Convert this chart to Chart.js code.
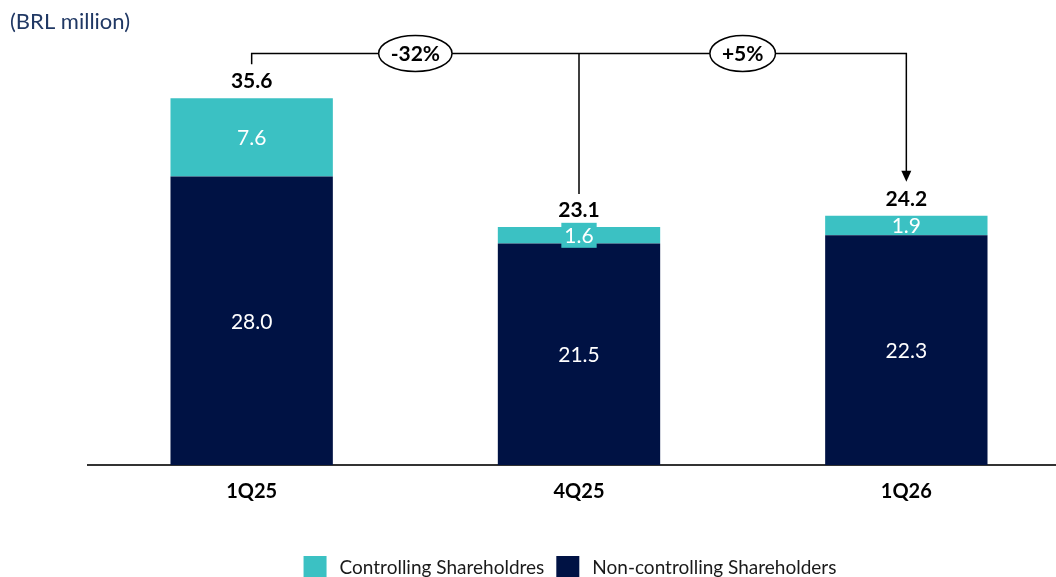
<!DOCTYPE html>
<html>
<head>
<meta charset="utf-8">
<script src="https://cdn.jsdelivr.net/npm/chart.js@4.4.1/dist/chart.umd.min.js"></script>
<style>
    html, body { margin: 0; padding: 0; background: #fff; overflow: hidden; }
    canvas { display: block; }
</style>
</head>
<body>
<canvas id="jsChart" width="1070" height="577"></canvas>
<script>
// 資料
const quarters = ['1Q25', '4Q25', '1Q26']
const nonControlling = [28.0, 21.5, 22.3]
const controlling = [7.6, 1.6, 1.9]
const variations = ['-32%', '+5%']
const unitLabel = '(BRL million)'

const TEAL = '#3bc1c3'
const NAVY = '#001244'
const FONT = 'Lato, "Noto Sans", sans-serif'

/**
 * @description 數值標籤、合計、變動幅度框線、圖例
*/
const overlayPlugin = {
    id: 'overlay',
    afterDatasetsDraw(chart) {
        const ctx = chart.ctx
        const yScale = chart.scales.y
        const xScale = chart.scales.x
        const topMeta = chart.getDatasetMeta(1)

        ctx.save()
        ctx.textAlign = 'center'
        ctx.textBaseline = 'middle'

        // 區段內數值
        ctx.font = '21px ' + FONT
        chart.data.datasets.forEach((ds, d) => {
            chart.getDatasetMeta(d).data.forEach((bar, i) => {
                let value = ds.data[i].toFixed(1)
                let cy = (bar.y + bar.base) / 2
                let h = Math.abs(bar.base - bar.y)
                if (h < 19) {
                    let w = ctx.measureText(value).width + 6
                    ctx.fillStyle = ds.backgroundColor
                    ctx.fillRect(bar.x - w / 2, cy - 12.5, w, 25)
                }
                ctx.fillStyle = '#ffffff'
                ctx.fillText(value, bar.x, cy + 1)
            })
        })

        // 合計
        let totalY = []
        ctx.font = 'bold 21px ' + FONT
        ctx.fillStyle = '#000000'
        topMeta.data.forEach((bar, i) => {
            let sum = nonControlling[i] + controlling[i]
            let ty = yScale.getPixelForValue(sum) - 17
            totalY.push(ty)
            ctx.fillText(sum.toFixed(1), bar.x, ty)
        })

        // 變動幅度框線
        let lineY = chart.chartArea.top + 0.5
        let xs = quarters.map((q, i) => xScale.getPixelForValue(i))
        ctx.strokeStyle = '#000000'
        ctx.lineWidth = 1.5
        ctx.beginPath()
        ctx.moveTo(xs[0], totalY[0] - 17)
        ctx.lineTo(xs[0], lineY)
        ctx.lineTo(xs[2], lineY)
        ctx.lineTo(xs[2], totalY[2] - 24)
        ctx.moveTo(xs[1], lineY)
        ctx.lineTo(xs[1], totalY[1] - 16)
        ctx.stroke()

        // 箭頭
        let tipY = totalY[2] - 17
        ctx.fillStyle = '#000000'
        ctx.beginPath()
        ctx.moveTo(xs[2], tipY)
        ctx.lineTo(xs[2] - 5, tipY - 11)
        ctx.lineTo(xs[2] + 5, tipY - 11)
        ctx.closePath()
        ctx.fill()

        // 橢圓標籤
        ctx.font = 'bold 21px ' + FONT
        variations.forEach((text, i) => {
            let cx = (xs[i] + xs[i + 1]) / 2
            let rx = ctx.measureText(text).width / 2 + 12
            ctx.beginPath()
            ctx.ellipse(cx, lineY, rx, 18, 0, 0, Math.PI * 2)
            ctx.fillStyle = '#ffffff'
            ctx.fill()
            ctx.stroke()
            ctx.fillStyle = '#000000'
            ctx.fillText(text, cx, lineY + 1)
        })

        // 單位
        ctx.textAlign = 'left'
        ctx.font = '22px ' + FONT
        ctx.fillStyle = '#203864'
        ctx.fillText(unitLabel, 10, 22)

        // 圖例
        ctx.font = '19px ' + FONT
        let items = [chart.data.datasets[1], chart.data.datasets[0]]
        let widths = items.map(ds => 23 + 13 + ctx.measureText(ds.label).width)
        let total = widths[0] + widths[1] + 12
        let lx = 570 - total / 2
        items.forEach((ds, i) => {
            ctx.fillStyle = ds.backgroundColor
            ctx.fillRect(lx, 556, 23, 21)
            ctx.fillStyle = '#1a1a1a'
            ctx.fillText(ds.label, lx + 36, 568)
            lx += widths[i] + 12
        })

        ctx.restore()
    }
}

function initChart() {

    let element = document.getElementById('jsChart')

    new Chart(element, {
        type: 'bar',
        data: {
            labels: quarters,
            datasets: [{
                label: 'Non-controlling Shareholders',
                data: nonControlling,
                backgroundColor: NAVY,
                borderWidth: 0
            }, {
                label: 'Controlling Shareholdres',
                data: controlling,
                backgroundColor: TEAL,
                borderWidth: 0
            }]
        },
        options: {
            responsive: false,
            animation: false,
            events: [],
            barPercentage: 0.496,
            categoryPercentage: 1.0,
            layout: {
                padding: { top: 53, left: 88, right: 0, bottom: 0 }
            },
            plugins: {
                legend: { display: false },
                tooltip: { enabled: false }
            },
            scales: {
                x: {
                    stacked: true,
                    grid: { display: false, drawTicks: false },
                    border: { display: true, color: '#333333', width: 2 },
                    ticks: {
                        padding: 15,
                        color: '#000000',
                        font: { family: FONT, size: 20, weight: 'bold' }
                    },
                    afterFit: axis => { axis.height = 112 }
                },
                y: {
                    stacked: true,
                    display: false,
                    min: 0,
                    max: 40
                }
            }
        },
        plugins: [overlayPlugin]
    })
}

initChart()
</script>
</body>
</html>
